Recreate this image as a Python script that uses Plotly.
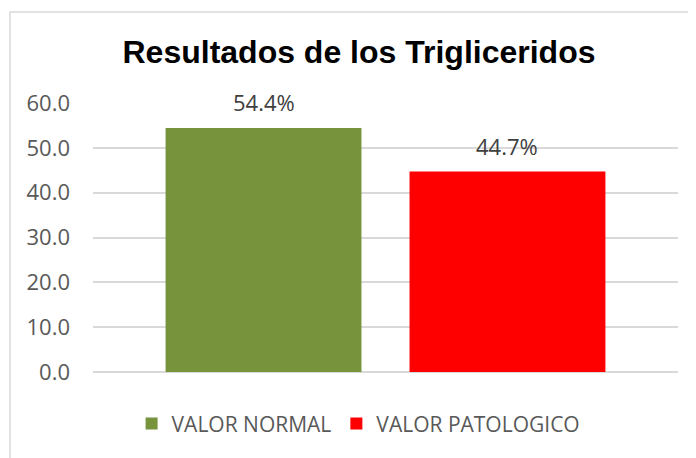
import plotly.graph_objects as go

categories = ["VALOR NORMAL", "VALOR PATOLOGICO"]
values = [54.4, 44.7]
labels = ["54.4%", "44.7%"]
colors = ["#77933C", "#FF0000"]
y_ticks = [0, 10, 20, 30, 40, 50, 60]
title = "Resultados de los Trigliceridos"

fig = go.Figure()
for c, v, col in zip(categories, values, colors):
    fig.add_trace(go.Bar(x=[c], y=[v], name=c, marker=dict(color=col, line=dict(width=0))))

for c, v, t in zip(categories, values, labels):
    fig.add_annotation(x=c, y=v, text=t, showarrow=False, yanchor="bottom", yshift=9,
                       font=dict(family="Open Sans", size=22, color="#404040"))

fig.add_shape(type="rect", xref="paper", yref="paper", x0=-0.1419, y0=-0.6, x1=1.2, y1=1.338,
              line=dict(color="#d9d9d9", width=1.5), fillcolor="rgba(0,0,0,0)", layer="below")

fig.update_layout(
    width=696, height=458,
    margin=dict(l=85, r=26, t=95, b=94),
    paper_bgcolor="white", plot_bgcolor="white",
    barmode="overlay", bargap=0.197,
    title=dict(text="<b>" + title + "</b>", x=0.4547, xref="paper", xanchor="center",
               y=1 - 44 / 458, yref="container", yanchor="middle",
               font=dict(family="Liberation Sans, Arial", size=32, color="black")),
    showlegend=True,
    legend=dict(orientation="h", x=0.454, xanchor="center", y=-0.193, yanchor="middle",
                font=dict(family="Open Sans", size=21, color="#595959"),
                itemwidth=30, traceorder="normal"),
    xaxis=dict(range=[-0.699, 1.699], showticklabels=False, showgrid=False, zeroline=False,
               showline=False, ticks=""),
    yaxis=dict(range=[0, 60], tickvals=y_ticks, tickformat=".1f", showgrid=True,
               gridcolor="#d9d9d9", gridwidth=1.5, zeroline=True, zerolinecolor="#d9d9d9",
               zerolinewidth=1.5, showline=False, ticks="", ticklabelstandoff=22,
               tickfont=dict(family="Open Sans", size=22, color="#595959")),
)

fig.write_html("out.html")
